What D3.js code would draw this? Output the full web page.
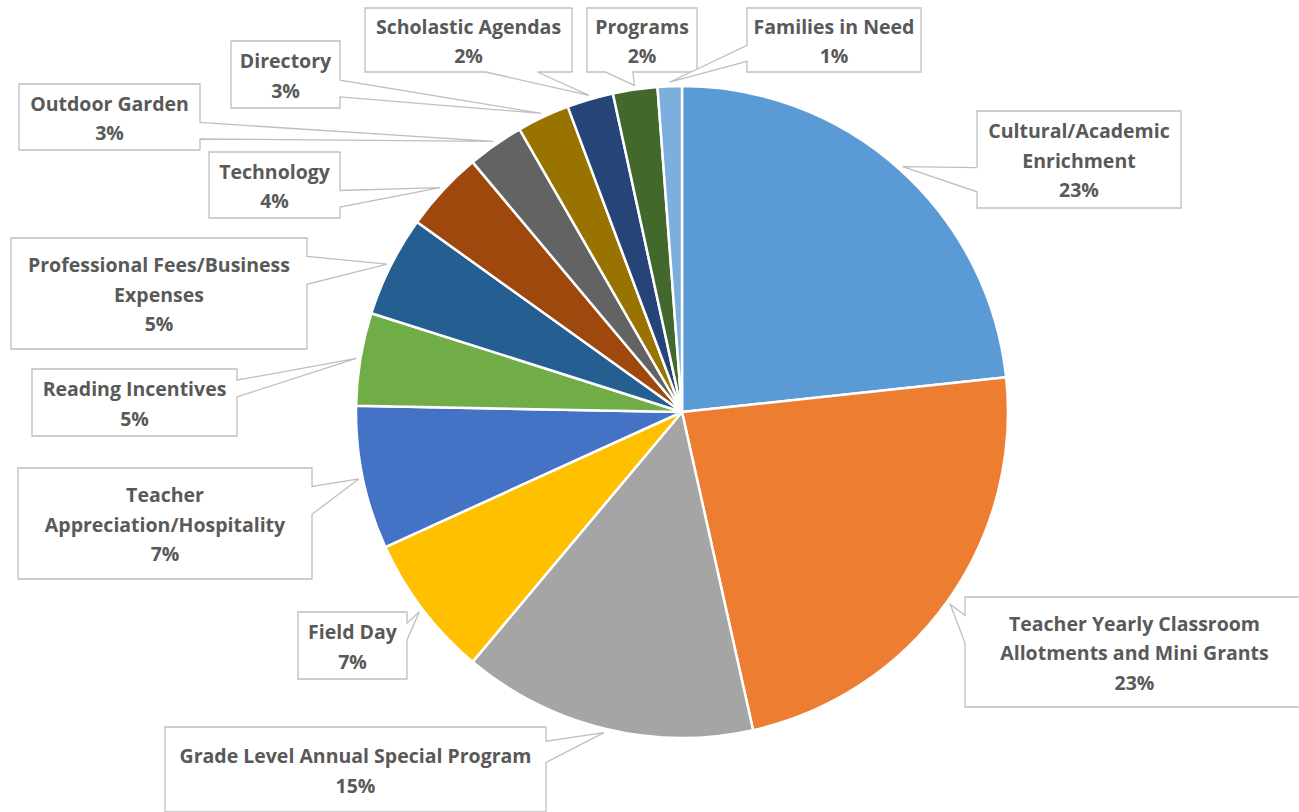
<!DOCTYPE html>
<html>
<head>
<meta charset="utf-8">
<script src="https://cdnjs.cloudflare.com/ajax/libs/d3/7.8.5/d3.min.js"></script>
<style>
  html, body { margin:0; padding:0; background:#fff; }
  .canvas { width:1299px; height:812px; }
  text { font-family: "Open Sans", Lato, sans-serif; font-weight:bold; }
</style>
</head>
<body>
<div class="canvas" id="canvas"></div>
<script>
// data, clockwise from 12 o'clock
var categories = [
    "Cultural/Academic Enrichment",
    "Teacher Yearly Classroom Allotments and Mini Grants",
    "Grade Level Annual Special Program",
    "Field Day",
    "Teacher Appreciation/Hospitality",
    "Reading Incentives",
    "Professional Fees/Business Expenses",
    "Technology",
    "Outdoor Garden",
    "Directory",
    "Scholastic Agendas",
    "Programs",
    "Families in Need"
];
var values = [23.3, 23.2, 14.6, 7.1, 7.1, 4.6, 5.0, 4.0, 2.8, 2.6, 2.3, 2.2, 1.2];
var labelLines = [
    ["Cultural/Academic", "Enrichment"],
    ["Teacher Yearly Classroom", "Allotments and Mini Grants"],
    ["Grade Level Annual Special Program"],
    ["Field Day"],
    ["Teacher", "Appreciation/Hospitality"],
    ["Reading Incentives"],
    ["Professional Fees/Business", "Expenses"],
    ["Technology"],
    ["Outdoor Garden"],
    ["Directory"],
    ["Scholastic Agendas"],
    ["Programs"],
    ["Families in Need"]
];
var colors = ["#5B9BD5","#ED7D31","#A5A5A5","#FFC000","#4472C4","#70AD47",
              "#255E91","#9E480E","#636363","#997300","#264478","#43682B","#7CAFDD"];

// label box layout [x0, y0, x1, y1]
var boxes = [
    [977, 111, 1181, 208],
    [965, 597, 1304, 707],
    [165, 727, 546, 812],
    [298, 612, 407, 679],
    [18, 468, 312, 579],
    [32, 369, 237, 436],
    [11, 238, 307, 349],
    [209, 152, 340, 218],
    [19, 84, 200, 150],
    [231, 41, 340, 108],
    [365, 8, 572, 72],
    [587, 8, 697, 72],
    [747, 8, 921, 72]
];

var outerWidth = document.getElementById('canvas').clientWidth,
    outerHeight = document.getElementById('canvas').clientHeight;
var cx = 682, cy = 412, r = 326;

var svg = d3.select('.canvas')
    .append('svg')
    .attr('width', outerWidth)
    .attr('height', outerHeight);

var data = categories.map(function(c, i){
    return {name:c, value:values[i], color:colors[i], lines:labelLines[i], box:boxes[i]};
});
var total = d3.sum(values);
var fmt = d3.format('.0%');

var pie = d3.pie().sort(null).value(function(d){ return d.value; });
var arc = d3.arc().innerRadius(0).outerRadius(r);
var arcs = pie(data);

var plot = svg.append('g')
    .attr('transform', 'translate(' + cx + ',' + cy + ')');

plot.selectAll('path')
    .data(arcs)
    .enter()
    .append('path')
    .attr('d', arc)
    .style('fill', function(d){ return d.data.color; })
    .style('stroke', '#fff')
    .style('stroke-width', 2.5)
    .style('stroke-linejoin', 'round');

// callout shape (same geometry as office wedgeRectCallout)
function callout(b, px, py){
    var l = b[0], t = b[1], rr = b[2], bt = b[3];
    var w = rr - l, h = bt - t;
    var hc = l + w/2, vc = t + h/2;
    var dxPos = px - hc, dyPos = py - vc;
    var dq = dxPos * h / w;
    var dz = Math.abs(dyPos) - Math.abs(dq);
    var x1 = l + w * (dxPos > 0 ? 7 : 2) / 12, x2 = l + w * (dxPos > 0 ? 10 : 5) / 12;
    var y1 = t + h * (dyPos > 0 ? 7 : 2) / 12, y2 = t + h * (dyPos > 0 ? 10 : 5) / 12;
    var pts = [[l, t]];
    if (dz > 0 && dyPos < 0) pts.push([x1, t], [px, py], [x2, t]);
    pts.push([rr, t]);
    if (dz <= 0 && dxPos > 0) pts.push([rr, y1], [px, py], [rr, y2]);
    pts.push([rr, bt]);
    if (dz > 0 && dyPos > 0) pts.push([x2, bt], [px, py], [x1, bt]);
    pts.push([l, bt]);
    if (dz <= 0 && dxPos < 0) pts.push([l, y2], [px, py], [l, y1]);
    return 'M' + pts.map(function(p){ return p[0] + ',' + p[1]; }).join('L') + 'Z';
}

var tipArc = d3.arc().innerRadius(r + 4).outerRadius(r + 4);

var labels = svg.selectAll('g.label')
    .data(arcs)
    .enter()
    .append('g')
    .attr('class', 'label');

labels.append('path')
    .attr('d', function(d){
        var c = tipArc.centroid(d);
        return callout(d.data.box, cx + c[0], cy + c[1]);
    })
    .style('fill', '#fff')
    .style('stroke', '#BFBFBF')
    .style('stroke-width', 1.3);

labels.each(function(d){
    var b = d.data.box;
    var lines = d.data.lines.concat([fmt(d.data.value / total)]);
    var lh = 29.5;
    var midY = (b[1] + b[3]) / 2 + 1.5;
    var y0 = midY - (lines.length - 1) * lh / 2;
    d3.select(this).selectAll('text')
        .data(lines)
        .enter()
        .append('text')
        .attr('x', (b[0] + b[2]) / 2)
        .attr('y', function(s, i){ return y0 + i * lh; })
        .attr('dy', '0.35em')
        .attr('text-anchor', 'middle')
        .style('font-size', '19.5px')
        .style('fill', '#595959')
        .text(function(s){ return s; });
});
</script>
</body>
</html>
